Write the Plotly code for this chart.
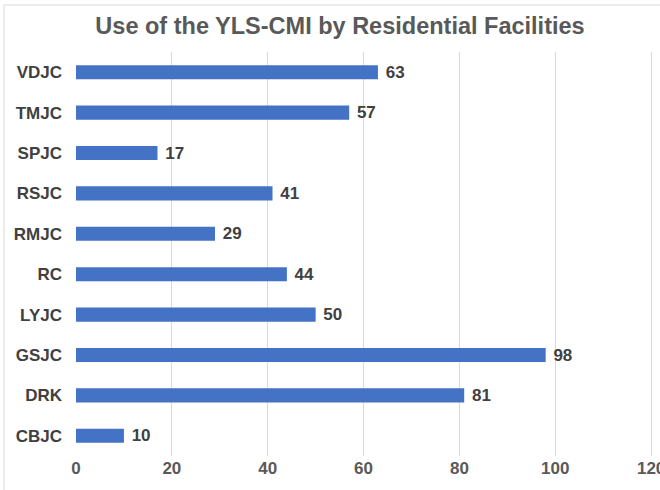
import plotly.graph_objects as go

categories = ["CBJC", "DRK", "GSJC", "LYJC", "RC", "RMJC", "RSJC", "SPJC", "TMJC", "VDJC"]
values = [10, 81, 98, 50, 44, 29, 41, 17, 57, 63]
x_ticks = [0, 20, 40, 60, 80, 100, 120]

W, H = 660, 490
ml, mr, mt, mb = 76, 6, 52, 34
pw = W - ml - mr
ph = H - mt - mb
FONT = "Liberation Sans, Arial"

fig = go.Figure(go.Bar(
    x=values, y=categories, orientation="h",
    marker=dict(color="#4472C4", line=dict(width=0)),
    text=[" " + str(v) for v in values], textposition="outside",
    constraintext="none",
    textfont=dict(family=FONT, size=17, color="#404040", weight="bold"),
    cliponaxis=False, width=0.35,
))

fig.update_layout(
    width=W, height=H,
    margin=dict(l=ml, r=mr, t=mt, b=mb, autoexpand=False),
    paper_bgcolor="white", plot_bgcolor="white",
    title=dict(text="<b>Use of the YLS-CMI by Residential Facilities</b>",
               x=340 / W, xanchor="center", y=1 - 26 / H, yanchor="middle",
               font=dict(family=FONT, size=23.5, color="#595959")),
    showlegend=False,
    xaxis=dict(range=[0, 120.6], tickvals=x_ticks, showgrid=True, gridcolor="#d9d9d9", gridwidth=1,
               zeroline=False, showline=False, ticklabeloverflow="allow",
               tickfont=dict(family=FONT, size=17, color="#595959", weight="bold")),
    yaxis=dict(categoryorder="array", categoryarray=categories, showgrid=False, zeroline=False,
               showline=False, ticklabelstandoff=13,
               tickfont=dict(family=FONT, size=17, color="#404040", weight="bold")),
    shapes=[
        dict(type="line", xref="paper", yref="paper", x0=(4 - ml) / pw, x1=(W - ml) / pw,
             y0=1 + (mt - 5) / ph, y1=1 + (mt - 5) / ph, line=dict(color="#d9d9d9", width=1)),
        dict(type="line", xref="paper", yref="paper", x0=(4 - ml) / pw, x1=(4 - ml) / pw,
             y0=1 + (mt - 5) / ph, y1=-mb / ph, line=dict(color="#d9d9d9", width=1)),
    ],
)

fig.write_html("out.html", config={"displayModeBar": False},
               post_script="document.body.style.margin='0';")
